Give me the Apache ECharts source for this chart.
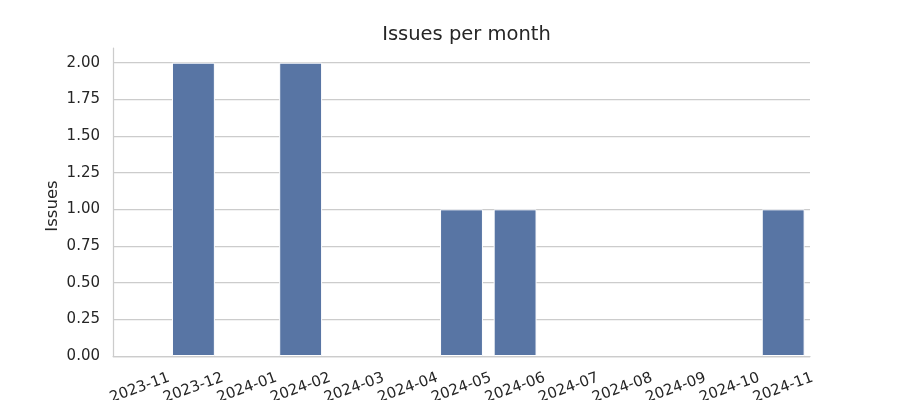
<!DOCTYPE html>
<html>
<head>
<meta charset="utf-8">
<script src="https://cdn.jsdelivr.net/npm/echarts@6/dist/echarts.min.js"></script>
<style>html,body{margin:0;padding:0;background:#fff}#c{width:900px;height:400px}</style>
</head>
<body>
<div id="c"></div>
<script>
const months = ['2023-11','2023-12','2024-01','2024-02','2024-03','2024-04','2024-05','2024-06','2024-07','2024-08','2024-09','2024-10','2024-11'];
const issues = [0, 2, 0, 2, 0, 0, 1, 1, 0, 0, 0, 0, 1];
const yMin = 0, yMax = 2.1, yStep = 0.25;

const font = 'DejaVu Sans';
const chart = echarts.init(document.getElementById('c'), null, {renderer: 'canvas'});
chart.setOption({
  animation: false,
  backgroundColor: '#ffffff',
  title: {
    text: 'Issues per month',
    left: 461.5, top: 20, textAlign: 'center',
    textStyle: {fontFamily: font, fontSize: 19.5, fontWeight: 'normal', color: '#262626'}
  },
  grid: {left: 113, right: 90, top: 48, bottom: 44, containLabel: false, outerBoundsMode: 'none'},
  xAxis: {
    type: 'category',
    data: months,
    axisLine: {show: true, lineStyle: {color: '#cccccc', width: 1.25}},
    axisTick: {show: false},
    axisLabel: {
      interval: 0, rotate: 20, align: 'center', verticalAlign: 'middle', margin: 32,
      hideOverlap: false,
      fontFamily: font, fontSize: 15, color: '#262626'
    },
    splitLine: {show: false}
  },
  yAxis: {
    type: 'value',
    min: yMin, max: yMax, interval: yStep,
    name: 'Issues', nameLocation: 'middle', nameGap: 52, nameRotate: 90, nameMoveOverlap: false,
    nameTextStyle: {fontFamily: font, fontSize: 16.5, color: '#262626', padding: [0, 8, 0, 0]},
    axisLine: {show: true, lineStyle: {color: '#cccccc', width: 1.25}},
    axisTick: {show: false},
    axisLabel: {
      margin: 13, fontFamily: font, fontSize: 15, color: '#262626',
      showMaxLabel: false,
      formatter: v => (Math.abs(v / yStep - Math.round(v / yStep)) < 1e-6) ? v.toFixed(2) : ''
    },
    splitLine: {show: true, showMaxLine: false, lineStyle: {color: '#cccccc', width: 1.25}}
  },
  series: [{
    type: 'bar',
    data: issues.map(v => (v === 0 ? null : v)),
    barWidth: '80%',
    itemStyle: {color: '#5875a4', borderColor: '#ffffff', borderWidth: 1}
  }]
});
</script>
</body>
</html>
